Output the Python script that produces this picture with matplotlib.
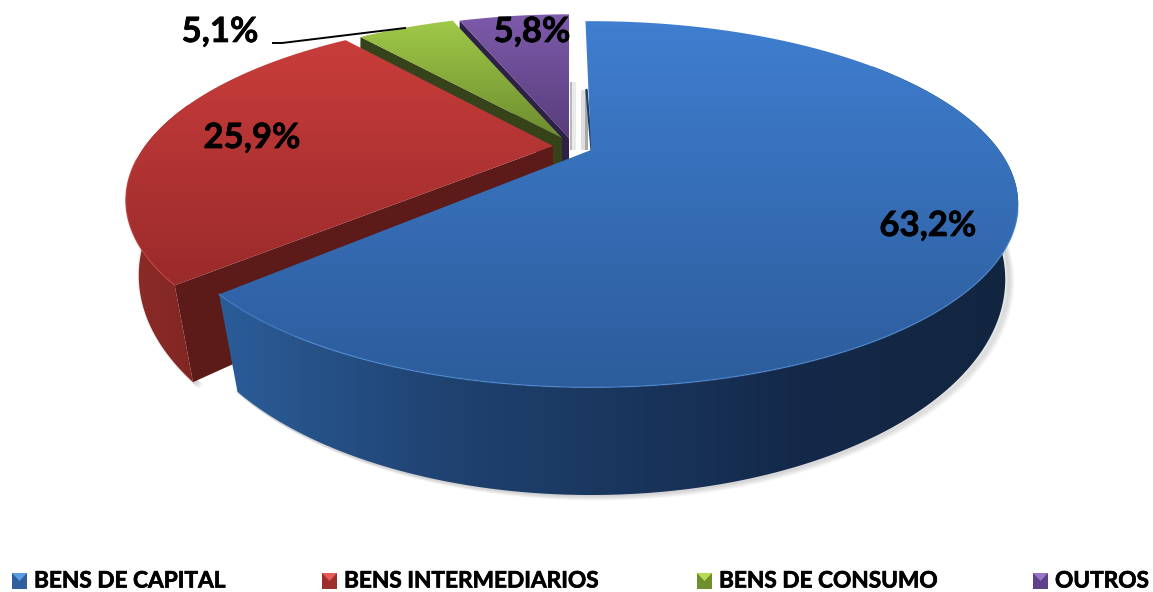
# 3D-look exploded pie, built by hand: matplotlib has no perspective pie.
import numpy as np
import matplotlib
matplotlib.use("Agg")
import matplotlib.pyplot as plt
import matplotlib.patheffects as pe
from matplotlib.colors import LinearSegmentedColormap as LSC
from matplotlib.patches import Polygon, Rectangle

categories = ["BENS DE CAPITAL", "BENS INTERMEDIARIOS", "BENS DE CONSUMO", "OUTROS"]
values = [63.2, 25.9, 5.1, 5.8]

# per slice look: apex pixel, size factor, small turn, top gradient, cut face colour
apex = [(591, 150), (553, 146), (562, 138), (569, 138)]
scale = [1.0, 1.0, 0.96, 0.96]
turn = [-1.0, 0.5, 0.0, 0.0]
top_grad = [[(20, "#3f7ed0"), (390, "#2c5c9b")], [(40, "#c83d3b"), (300, "#98292a")],
            [(20, "#a0c948"), (140, "#6b8a2e")], [(15, "#7d5aaa"), (140, "#573c7a")]]
wall_grad = [[(225, "#2b5c98"), (450, "#1f4270"), (800, "#14294a"), (1020, "#12253f")],
             [(130, "#8c2b28"), (240, "#7a2320")]]
face_col = ["#1d4069", "#5c1a18", "#36431a", "#2e2147"]
edge_col = ["#4f90dc", "#c9403f"]
leg_col = [("#5b9be0", "#2f5f9f"), ("#e85a55", "#9c2f2c"), ("#b5dc55", "#6f8f30"), ("#9a74c8", "#5f4288")]
leg_x = [12, 322, 697, 1033]
lab_xy = [(928, 226), (252, 138), (220, 32), (532, 32)]

fig = plt.figure(figsize=(11.53, 5.92), dpi=100)
ax = fig.add_axes([0, 0, 1, 1])
plt.rcParams["font.family"] = ["Lato", "DejaVu Sans"]
bold = [pe.withStroke(linewidth=0.5, foreground="black")]


def proj(th, A, B, p):
    # clockwise angle from 12 o'clock, on a disc seen in perspective
    u, v = np.sin(th), np.cos(th)
    d = 1 + p * v
    return A * u / d, -B * v / d


def top(i, th):
    x, y = proj(th + np.radians(turn[i]), 408, 167, 0.2964)
    return apex[i][0] + scale[i] * x, apex[i][1] + scale[i] * y


def bot(i, th):
    x, y = proj(th + np.radians(turn[i]), 400, 201, 0.26)
    return apex[i][0] + scale[i] * x, apex[i][1] + 73.4 + scale[i] * y


z = [10]
def grad_poly(xy, stops, horiz=False):
    # stops are (pixel, colour); the picture spans the whole figure, clipped to xy
    z[0] += 1
    pg = Polygon(xy, closed=True, fc="none", ec="none", zorder=z[0])
    ax.add_patch(pg)
    size = 1153 if horiz else 592
    pos = [0] + [p / size for p, _ in stops] + [1]
    cols = [stops[0][1]] + [c for _, c in stops] + [stops[-1][1]]
    g = np.linspace(0, 1, 1153)
    g = g[None, :] if horiz else g[:, None]
    im = ax.imshow(g, cmap=LSC.from_list("g", list(zip(pos, cols))), extent=(0, 1153, 592, 0),
                   aspect="auto", zorder=z[0], vmin=0, vmax=1, interpolation="bilinear")
    im.set_clip_path(pg)


edges = np.radians(np.r_[0, np.cumsum(values)] * 3.6)

# soft shadow under the outer walls
for off in range(1, 9):
    for i, (a, b) in ((0, (np.radians(72), edges[1])), (1, (edges[1], np.radians(262)))):
        t = np.linspace(a, b, 120)
        x, y = bot(i, t)
        ax.plot(x + off * 0.8, y + off * 0.6 - 2, color="0.35", alpha=0.035, lw=4, zorder=1)
grad_poly([(570, 82), (576, 82), (576, 150), (570, 150)], [(570, "#b8b8b8"), (576, "#ffffff")], horiz=True)
grad_poly([(581, 90), (588, 90), (588, 150), (581, 150)], [(581, "#ffffff"), (587, "#a8a8a8")], horiz=True)

# back to front: purple, green, red, blue
for i in (3, 2, 1, 0):
    t = np.linspace(edges[i], edges[i + 1], 200)
    a, b = edges[i], edges[i + 1]
    ap = apex[i]
    # cut face seen through the gap
    if i == 1:
        z[0] += 1
        ax.add_patch(Polygon([ap, top(i, a), bot(i, a), (ap[0], ap[1] + 74)], fc=face_col[i], ec="none", zorder=z[0]))
    if i in (2, 3):
        z[0] += 1
        ax.add_patch(Polygon([ap, top(i, a), bot(i, a), (ap[0], ap[1] + 24)], fc=face_col[i], ec="none", zorder=z[0]))
        ax.add_patch(Rectangle((ap[0] - 16 if i == 2 else ap[0] - 10, ap[1]), 16 if i == 2 else 10, 30,
                               fc=face_col[i], ec="none", zorder=z[0]))
    if i == 0:
        z[0] += 1
        ax.plot([top(0, 0)[0] + 1, ap[0] + 0.5], [90, ap[1]], color="#1d4069", lw=1.6, zorder=z[0])
    # outer wall
    if i < 2:
        w0, w1 = (np.radians(55), b) if i == 0 else (a, np.radians(285))
        tw = np.linspace(w1, w0, 200)
        xt, yt = top(i, tw); xb, yb = bot(i, tw)
        wall = np.c_[np.r_[xt, xb[::-1]], np.r_[yt, yb[::-1]]]
        grad_poly(wall, wall_grad[i], horiz=True)
    # top surface
    xt, yt = top(i, t)
    grad_poly(np.c_[np.r_[ap[0], xt], np.r_[ap[1], yt]], top_grad[i])
    # lit rim on the front part only
    if i < 2:
        z[0] += 1
        tr = np.linspace(np.radians(110), b, 150) if i == 0 else np.linspace(a, np.radians(265), 60)
        xr, yr = top(i, tr)
        ax.plot(xr, yr, color=edge_col[i], lw=1.0, alpha=0.6, zorder=z[0])

# labels and leader line
z[0] += 1
ax.plot([273, 282, 405], [43, 43, 28], color="black", lw=1.4, zorder=z[0])
for v, (x, y) in zip(values, lab_xy):
    ax.text(x, y, f"{v:.1f}".replace(".", ",") + "%", fontsize=25, fontweight="bold",
            ha="center", va="center", color="black", zorder=z[0] + 1, path_effects=bold)

# legend
for cat, lx, (c0, c1) in zip(categories, leg_x, leg_col):
    grad_poly([(lx, 573), (lx + 15, 573), (lx + 15, 589), (lx, 589)], [(573, c1), (589, c1)])
    z[0] += 1
    ax.add_patch(Polygon([(lx, 573), (lx + 15, 573), (lx + 7.5, 581)], fc=c0, ec="none", zorder=z[0]))
    ax.text(lx + 22, 581, cat, fontsize=16.3, fontweight="bold", ha="left", va="center",
            color="black", zorder=z[0], path_effects=bold)

ax.set_xlim(0, 1153); ax.set_ylim(592, 0); ax.axis("off")
fig.savefig("out.png", dpi=100)
